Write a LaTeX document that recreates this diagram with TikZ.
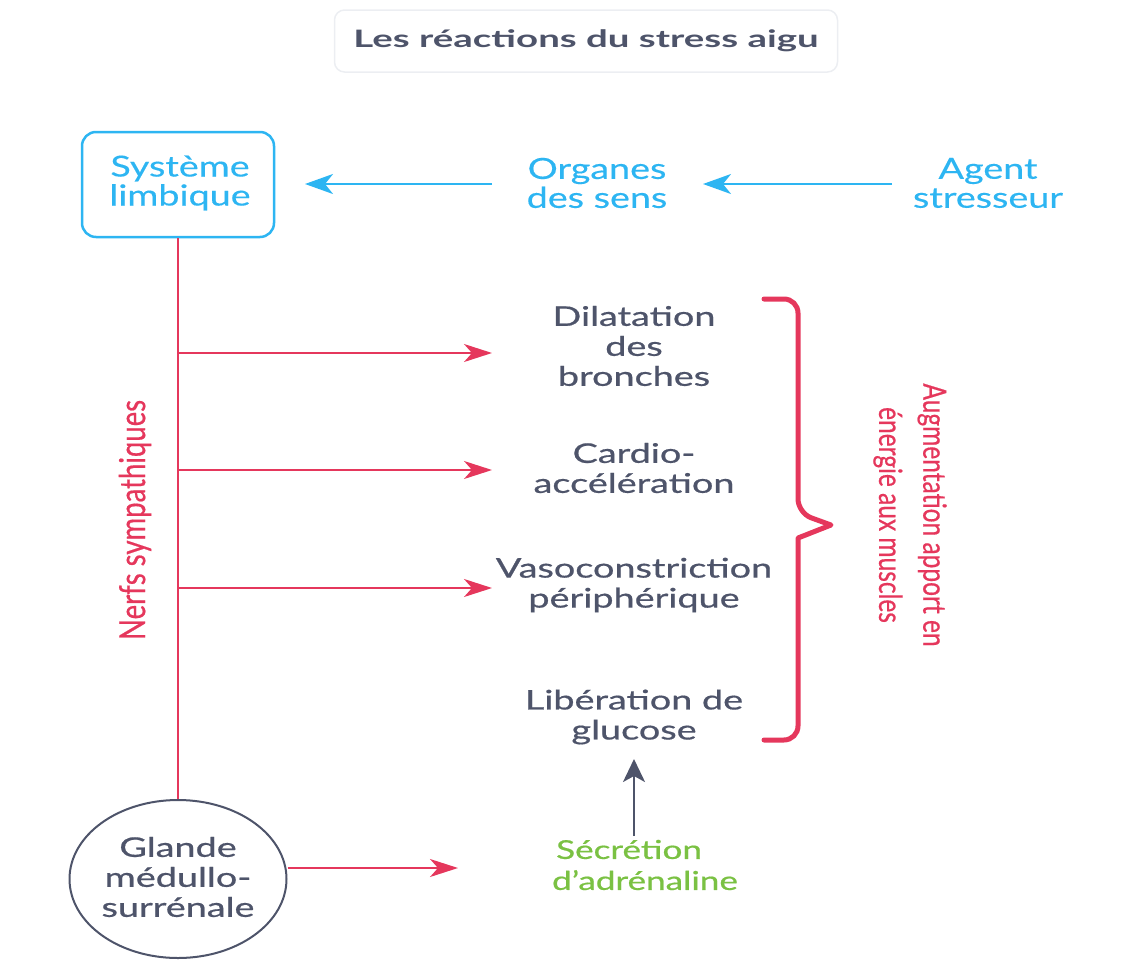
\documentclass[tikz,border=0pt]{standalone}
\usepackage{fontspec}
\setmainfont{Lato}
\newfontfamily\medfont{Lato}[FakeBold=0.6]
\newfontfamily\semfont{Lato}[FakeBold=0.3]
\usetikzlibrary{arrows.meta,shapes.geometric}
\definecolor{dk}{HTML}{4E546A}
\definecolor{bl}{HTML}{2DB5F2}
\definecolor{rd}{HTML}{E5375C}
\definecolor{gr}{HTML}{7AC143}
\definecolor{lg}{HTML}{ECEEF2}
\tikzset{
  darktxt/.style={text=dk, align=center, font=\medfont\fontsize{27}{30}\selectfont, xscale=1.4, inner sep=0pt},
  bluetxt/.style={text=bl, align=center, font=\semfont\fontsize{29}{29}\selectfont, xscale=1.3, inner sep=0pt},
  bluearr/.style={draw=bl, line width=2.5pt, -{Stealth[length=28pt,width=20pt,inset=8pt]}},
  redline/.style={draw=rd, line width=2pt},
  redarr/.style={draw=rd, line width=2pt, -{Stealth[length=28pt,width=18pt,inset=8pt]}},
}
\begin{document}
\begin{tikzpicture}[x=1pt,y=-1pt]
\useasboundingbox (0,0) rectangle (1140,972);
% title
\node[draw=lg, line width=1.5pt, rounded corners=10pt, minimum width=503pt, minimum height=62pt] (titlebox) at (586,41) {};
\node[text=dk, font=\bfseries\fontsize{24}{26}\selectfont, xscale=1.6] (title) at (586,41) {Les réactions du stress aigu};
% top row
\node[draw=bl, line width=2.5pt, rounded corners=14pt, minimum width=192pt, minimum height=105pt] (limbbox) at (178,184.5) {};
\node[bluetxt] (limb) at (180,183) {Système\\limbique};
\node[bluetxt] (org) at (597,183) {Organes\\des sens};
\node[bluetxt] (agent) at (988,183) {Agent\\stresseur};
\coordinate (a1s) at (892,184);
\coordinate (a1e) at (703,184);
\coordinate (a2s) at (492,184);
\coordinate (a2e) at (305,184);
\draw[bluearr] (a1s) -- (a1e);
\draw[bluearr] (a2s) -- (a2e);
% effects
\node[darktxt] (dil) at (634,346) {Dilatation\\des\\bronches};
\node[darktxt] (card) at (634,468) {Cardio-\\accélération};
\node[darktxt] (vaso) at (634,585) {Vasoconstriction\\périphérique};
\node[darktxt] (lib) at (634,717) {Libération de\\glucose};
% gland
\node[draw=dk, line width=2pt, ellipse, minimum width=217pt, minimum height=158pt] (gland) at (178,879) {};
\node[darktxt] (glandt) at (178,877) {Glande\\médullo-\\surrénale};
\node[text=gr, align=left, font=\medfont\fontsize{26}{31}\selectfont, xscale=1.35, inner sep=0pt] (secr) at (645,865) {\hspace*{3pt}Sécrétion\\d’adrénaline};
% trunk
\draw[redline] (limbbox.south) -- (gland.north);
\coordinate (b1) at (178,353); \coordinate (e1) at (492,353);
\coordinate (b2) at (178,470); \coordinate (e2) at (492,470);
\coordinate (b3) at (178,588); \coordinate (e3) at (492,588);
\draw[redarr] (b1) -- (e1);
\draw[redarr] (b2) -- (e2);
\draw[redarr] (b3) -- (e3);
\coordinate (g2) at (458,868);
\draw[redarr] (gland.east |- g2) -- (g2);
\node[text=rd, font=\medfont\fontsize{27.5}{40}\selectfont, inner sep=0pt, rotate=90, yscale=1.3] (nerfs) at (135,520) {Nerfs sympathiques};
% adrenaline arrow
\coordinate (ad1) at (634,836);
\coordinate (ad2) at (634,759);
\draw[draw=dk, line width=2pt, -{Stealth[length=23pt,width=22pt,inset=6pt]}] (ad1) -- (ad2);
% brace
\draw[draw=rd, line width=5pt, line cap=round, line join=round] (764,299) [rounded corners=14pt] -- (798,299) -- (798,513) [sharp corners] -- (831,525) -- (798,538) [rounded corners=14pt] -- (798,740) -- (764,740);
\node[text=rd, align=center, font=\medfont\fontsize{24.5}{34}\selectfont, inner sep=0pt, rotate=-90, yscale=1.3] (aug) at (910,515) {Augmentation apport en\\énergie aux muscles};
\end{tikzpicture}
\end{document}
